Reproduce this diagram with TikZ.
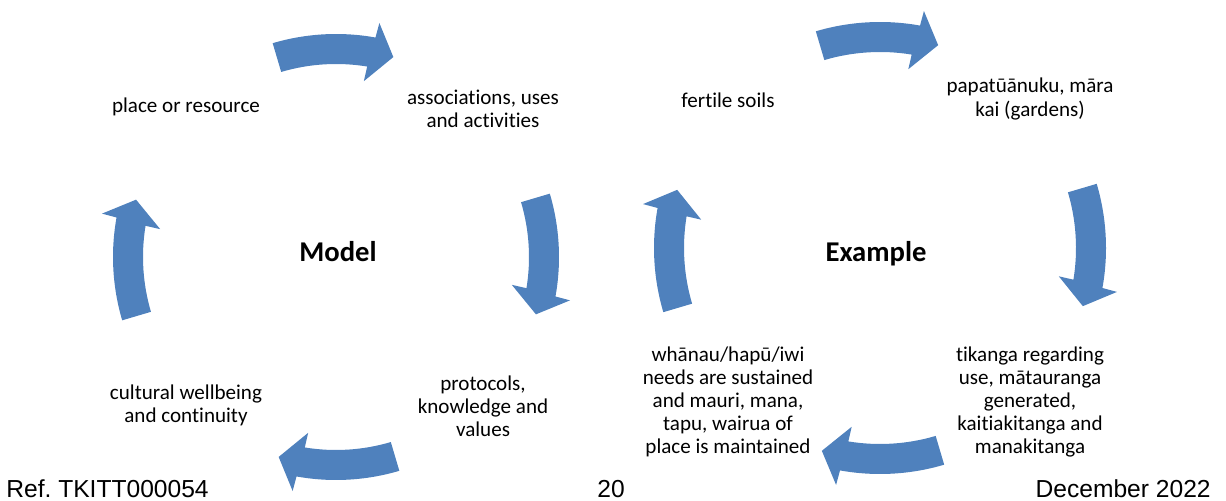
\documentclass[tikz,border=0pt]{standalone}
\usepackage{fontspec}
\setmainfont{Carlito}[Ligatures={NoCommon}]
\newfontfamily\footfont{Liberation Sans}
\usepackage{tikz}
\usetikzlibrary{positioning}
\definecolor{cycleblue}{RGB}{79,129,189}

% one bent arrow of a cycle: centre x, centre y, axis angle, mid radius
\newcommand{\cyclearrow}[4]{%
  \begin{scope}[shift={(#1,#2)}]
    \fill[cycleblue] (#3+16.5:#4+15) arc[start angle=#3+16.5, end angle=#3-10.2, radius=#4+15]
      -- (#3-10.5:#4+30) -- (#3-16:#4) -- (#3-9:#4-30)
      -- (#3-9.3:#4-15) arc[start angle=#3-9.3, end angle=#3+16.5, radius=#4-15] -- cycle;
  \end{scope}}

\begin{document}
\begin{tikzpicture}[x=0.02cm, y=0.02cm,
  lbl/.style={align=center, inner sep=0pt, font=\fontsize{12}{13.1}\selectfont},
  title/.style={inner sep=0pt, anchor=base, font=\fontsize{16.3}{18}\selectfont\bfseries},
  foot/.style={inner sep=0pt, font=\fontsize{14}{16}\selectfont\footfont}]
  \useasboundingbox (0,0) rectangle (1226,500);

  % Model cycle
  \foreach \ax in {90, 0, -90, 180}
    \cyclearrow{336}{243}{\ax}{208};
  \node[title] (model) at (338,238) {Model};
  \node[lbl] (place) at (186,393) {place or resource};
  \node[lbl] (assoc) at (483,391) {associations, uses\\and activities};
  \node[lbl] (proto) at (483,94) {protocols,\\knowledge and\\values};
  \node[lbl] (wellbeing) at (186,95) {cultural wellbeing\\and continuity};

  % Example cycle
  \foreach \ax in {90, 0, -90, 180}
    \cyclearrow{880}{252}{\ax}{211};
  \node[title] (example) at (876,238) {Example};
  \node[lbl] (soils) at (728,400) {fertile soils};
  \node[lbl] (gardens) at (1030,401) {papatūānuku, māra\\kai (gardens)};
  \node[lbl] (tikanga) at (1030,98) {tikanga regarding\\use, mātauranga\\generated,\\kaitiakitanga and\\manakitanga};
  \node[lbl] (whanau) at (728,98) {whānau/hapū/iwi\\needs are sustained\\and mauri, mana,\\tapu, wairua of\\place is maintained};

  % Footer
  \node[foot, anchor=base west] (ref) at (6,3) {Ref.\ TKITT000054};
  \node[foot, anchor=base] (page) at (611,3) {20};
  \node[foot, anchor=base east] (date) at (1211,3) {December 2022};
\end{tikzpicture}
\end{document}
